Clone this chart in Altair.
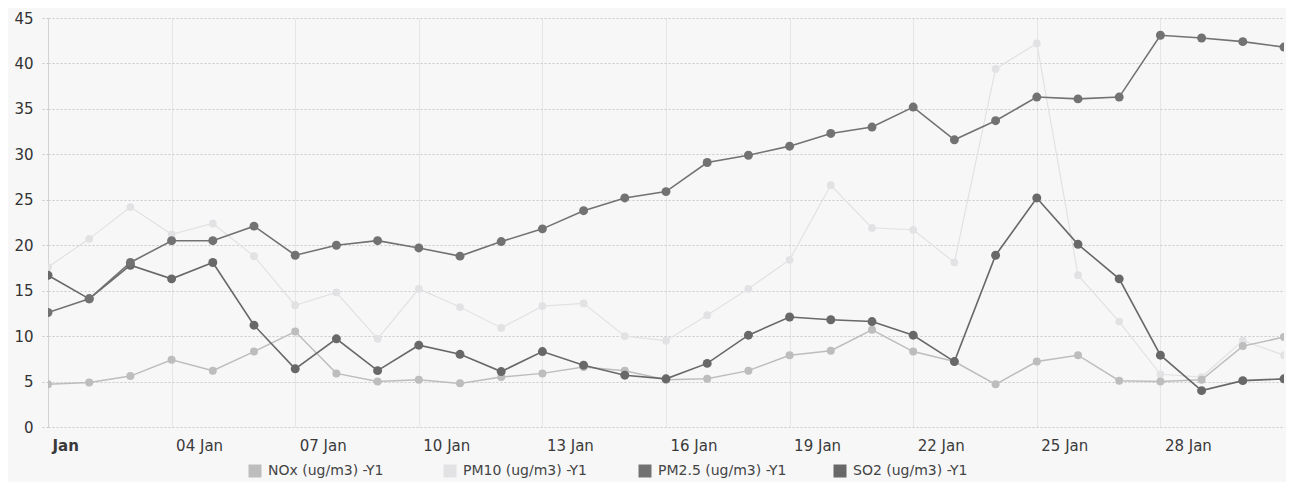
import altair as alt
import pandas as pd

days = list(range(1, 32))
series_names = ["NOx (ug/m3) -Y1", "PM10 (ug/m3) -Y1", "PM2.5 (ug/m3) -Y1", "SO2 (ug/m3) -Y1"]
series_colors = ["#bdbdbd", "#e2e2e4", "#727272", "#686868"]

nox = [4.7, 4.9, 5.6, 7.4, 6.2, 8.3, 10.5, 5.9, 5.0, 5.2, 4.8, 5.5, 5.9, 6.6, 6.2, 5.2,
       5.3, 6.2, 7.9, 8.4, 10.7, 8.3, 7.2, 4.7, 7.2, 7.9, 5.1, 5.0, 5.2, 8.9, 9.9]
pm10 = [17.6, 20.7, 24.2, 21.2, 22.4, 18.8, 13.4, 14.8, 9.7, 15.2, 13.2, 10.9, 13.3, 13.6, 10.0, 9.5,
        12.3, 15.2, 18.4, 26.6, 21.9, 21.7, 18.1, 39.4, 42.2, 16.7, 11.6, 5.8, 5.5, 9.5, 7.9]
pm25 = [12.6, 14.1, 18.1, 20.5, 20.5, 22.1, 18.9, 20.0, 20.5, 19.7, 18.8, 20.4, 21.8, 23.8, 25.2, 25.9,
        29.1, 29.9, 30.9, 32.3, 33.0, 35.2, 31.6, 33.7, 36.3, 36.1, 36.3, 43.1, 42.8, 42.4, 41.8]
so2 = [16.7, 14.1, 17.8, 16.3, 18.1, 11.2, 6.4, 9.7, 6.2, 9.0, 8.0, 6.1, 8.3, 6.8, 5.7, 5.3,
       7.0, 10.1, 12.1, 11.8, 11.6, 10.1, 7.2, 18.9, 25.2, 20.1, 16.3, 7.9, 4.0, 5.1, 5.3]

x_ticks = [1, 4, 7, 10, 13, 16, 19, 22, 25, 28]
y_ticks = [0, 5, 10, 15, 20, 25, 30, 35, 40, 45]

rows = []
for name, vals in zip(series_names, [nox, pm10, pm25, so2]):
    for d, v in zip(days, vals):
        rows.append({"day": d, "value": v, "series": name})
df = pd.DataFrame(rows)

color_scale = alt.Scale(domain=series_names, range=series_colors)

x_enc = alt.X(
    "day:Q",
    scale=alt.Scale(domain=[1, 31], nice=False, zero=False),
    axis=alt.Axis(
        values=x_ticks,
        labelExpr="datum.value == 1 ? 'Jan' : (datum.value < 10 ? '0' : '') + datum.value + ' Jan'",
        labelAlign="left",
        labelOffset=4,
        labelPadding=11,
        labelFlush=False,
        labelFont="DejaVu Sans",
        labelFontSize=15,
        labelColor="#3a3a3a",
        labelFontWeight={"condition": {"test": "datum.value == 1", "value": "bold"}, "value": "normal"},
        ticks=False,
        domain=False,
        grid=True,
        gridColor="#e6e6e8",
        gridWidth=1,
        title=None,
    ),
)
y_enc = alt.Y(
    "value:Q",
    scale=alt.Scale(domain=[0, 45], nice=False),
    axis=alt.Axis(
        values=y_ticks,
        labelFont="DejaVu Sans",
        labelFontSize=15,
        labelColor="#333333",
        labelPadding=7,
        ticks=True,
        tickSize=8,
        tickColor="#c9c9cc",
        tickDash=[2, 2],
        domain=True,
        domainColor="#d2d2d4",
        grid=True,
        gridColor="#c9c9cc",
        gridDash=[2, 2],
        gridWidth=1,
        title=None,
    ),
)

color_enc = alt.Color(
    "series:N",
    scale=color_scale,
    legend=alt.Legend(
        title=None,
        orient="none",
        legendX=200,
        legendY=446,
        direction="horizontal",
        columns=4,
        columnPadding=46,
        gridAlign="all",
        symbolType="square",
        symbolSize=169,
        symbolStrokeWidth=0,
        symbolOpacity=1,
        labelFont="DejaVu Sans",
        labelFontSize=14,
        labelColor="#444444",
        labelOffset=6,
    ),
)

styles = {
    "PM10 (ug/m3) -Y1": (1.2, 60),
    "NOx (ug/m3) -Y1": (1.5, 64),
    "SO2 (ug/m3) -Y1": (1.6, 80),
    "PM2.5 (ug/m3) -Y1": (1.6, 80),
}

layers = []
for name in ["PM10 (ug/m3) -Y1", "NOx (ug/m3) -Y1", "SO2 (ug/m3) -Y1", "PM2.5 (ug/m3) -Y1"]:
    sw, sz = styles[name]
    base = alt.Chart(df).transform_filter(alt.datum.series == name)
    line = base.mark_line(strokeWidth=sw, clip=True).encode(x=x_enc, y=y_enc, color=color_enc)
    pts = base.mark_point(filled=True, size=sz, opacity=1, clip=True).encode(x=x_enc, y=y_enc, color=color_enc)
    layers.extend([line, pts])

chart = (
    alt.layer(*layers)
    .properties(
        width=1236,
        height=409,
        padding={"left": 40, "top": 10, "right": 2, "bottom": 55},
        autosize=alt.AutoSizeParams(type="none"),
        background="#f7f7f8",
    )
    .configure_view(stroke=None)
)

chart.save("out.html", embed_options={"renderer": "svg", "actions": False})
